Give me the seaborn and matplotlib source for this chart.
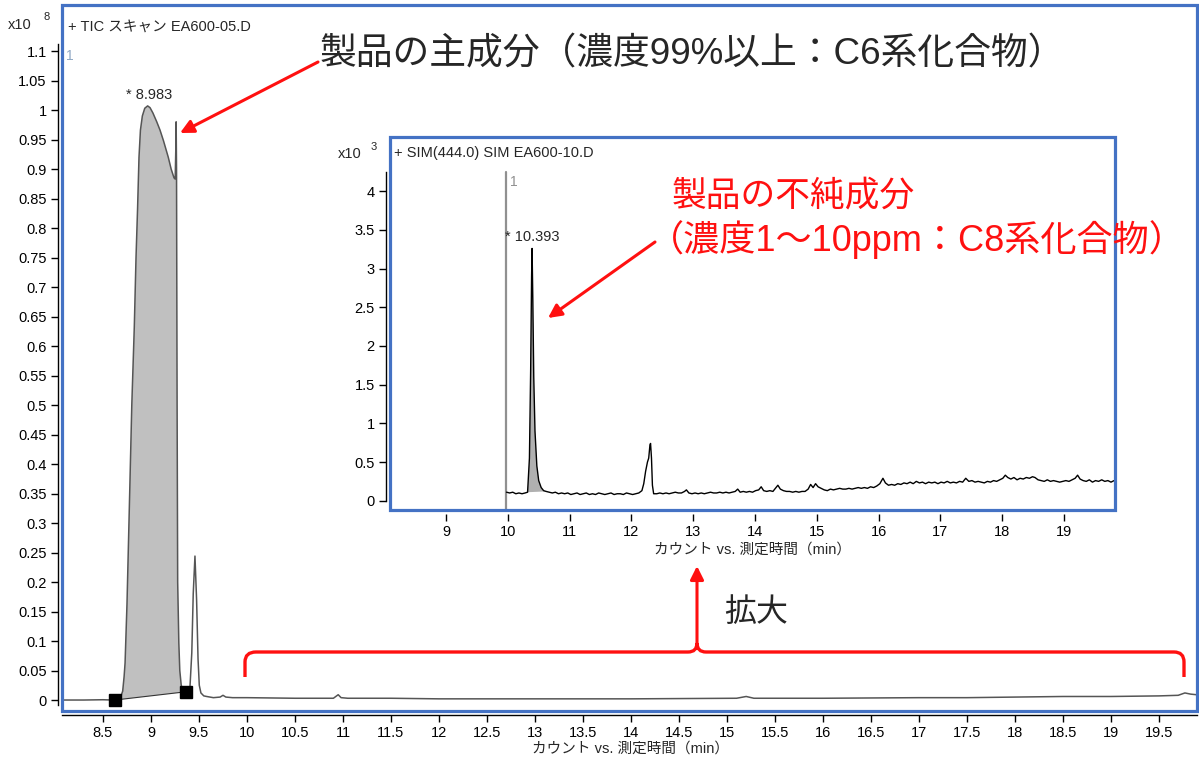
"""GC-MS chromatogram: TIC scan with SIM inset (product main / impurity component)."""

import matplotlib
matplotlib.use("Agg")
import matplotlib.pyplot as plt
from matplotlib.patches import Rectangle, FancyArrowPatch, PathPatch
from matplotlib.path import Path
import numpy as np
import pandas as pd
import seaborn as sns

# ---- TIC scan EA600-05.D (abundance x10^8) ----
tic_time = [8.07, 8.30, 8.50, 8.60, 8.625, 8.66, 8.69, 8.705, 8.72, 8.73, 8.75, 8.78,
            8.80, 8.826, 8.844, 8.86, 8.875, 8.89, 8.91, 8.935, 8.965, 8.99, 9.02, 9.06,
            9.094, 9.13, 9.18, 9.21, 9.24, 9.252, 9.258, 9.262, 9.266, 9.272, 9.278,
            9.29, 9.30, 9.315, 9.336, 9.365, 9.39, 9.406, 9.425, 9.44, 9.458, 9.475,
            9.49, 9.503, 9.52, 9.55, 9.58, 9.65, 9.72, 9.75, 9.78, 9.85, 10.0, 10.5,
            10.9, 10.95, 10.98, 11.05, 11.5, 12.0, 13.0, 14.0, 15.1, 15.2, 15.28, 16.0,
            17.0, 17.5, 18.0, 18.5, 19.0, 19.5, 19.7, 19.77, 19.83, 19.89]
tic_abund = [0.0, 0.0, 0.0005, 0.0, 0.0, 0.003, 0.008, 0.015, 0.04, 0.063, 0.163, 0.364,
             0.50, 0.632, 0.75, 0.832, 0.92, 0.966, 0.99, 1.003, 1.007, 1.004, 0.995, 0.98,
             0.966, 0.948, 0.92, 0.90, 0.885, 0.883, 0.93, 0.98, 0.90, 0.50, 0.20,
             0.097, 0.05, 0.025, 0.015, 0.014, 0.016, 0.022, 0.08, 0.18, 0.244, 0.17,
             0.07, 0.025, 0.012, 0.007, 0.006, 0.004, 0.005, 0.008, 0.005, 0.004, 0.004, 0.003,
             0.003, 0.009, 0.004, 0.003, 0.003, 0.002, 0.002, 0.002, 0.003, 0.006, 0.003, 0.003,
             0.004, 0.004, 0.005, 0.006, 0.006, 0.007, 0.008, 0.012, 0.010, 0.009]

# integration baseline end points of the main peak
tic_base_time = [8.625, 9.365]
tic_base_abund = [0.0, 0.014]
tic_peak_rt = 8.983

# ---- SIM(444.0) EA600-10.D (abundance x10^3) ----
sim_time = [9.98, 10.03, 10.08, 10.13, 10.18, 10.23, 10.28,
            10.32, 10.35, 10.37, 10.385, 10.393, 10.405, 10.42, 10.44, 10.47, 10.50, 10.54,
            10.58, 10.62,
            10.67, 10.72, 10.77, 10.82, 10.87, 10.92, 10.97, 11.02, 11.07, 11.12, 11.17,
            11.22, 11.27, 11.32, 11.37, 11.42, 11.47, 11.52, 11.57, 11.62, 11.67, 11.72,
            11.77, 11.82, 11.87, 11.92, 11.97, 12.02, 12.07, 12.12, 12.17,
            12.20, 12.23, 12.26, 12.28, 12.30, 12.31, 12.325, 12.34, 12.36,
            12.41, 12.46, 12.51, 12.56, 12.61, 12.66, 12.71, 12.76, 12.81, 12.86, 12.89,
            12.93, 12.98, 13.03, 13.08, 13.13, 13.18, 13.23, 13.28, 13.33, 13.38, 13.43,
            13.48, 13.53, 13.58, 13.63, 13.68, 13.72, 13.76, 13.81, 13.86, 13.91, 13.96,
            14.01, 14.06, 14.10, 14.14, 14.19, 14.24, 14.29, 14.33, 14.37, 14.41, 14.46,
            14.51, 14.56, 14.61, 14.66, 14.71, 14.76, 14.81, 14.86, 14.90, 14.94, 14.98,
            15.02, 15.07, 15.12, 15.17, 15.22, 15.27, 15.32, 15.37, 15.42, 15.47, 15.52,
            15.57, 15.62, 15.67, 15.72, 15.77, 15.82, 15.87, 15.92, 15.97, 16.02, 16.07,
            16.11, 16.16, 16.21, 16.26, 16.31, 16.36, 16.41, 16.46, 16.51, 16.56, 16.61,
            16.66, 16.71, 16.76, 16.81, 16.86, 16.91, 16.96, 17.01, 17.06, 17.11, 17.16,
            17.21, 17.26, 17.31, 17.36, 17.41, 17.46, 17.51, 17.56, 17.61, 17.66, 17.71,
            17.76, 17.81, 17.86, 17.91, 17.96, 18.01, 18.05, 18.09, 18.14, 18.19, 18.24,
            18.29, 18.34, 18.39, 18.44, 18.49, 18.53, 18.58, 18.63, 18.68, 18.73, 18.78,
            18.83, 18.88, 18.93, 18.98, 19.03, 19.08, 19.13, 19.18, 19.22, 19.26, 19.31,
            19.36, 19.41, 19.46, 19.51, 19.56, 19.61, 19.66, 19.71, 19.76, 19.81, 19.83]
sim_abund = [0.11, 0.10, 0.11, 0.09, 0.10, 0.09, 0.10,
             0.11, 0.55, 1.7, 2.9, 3.26, 2.6, 1.6, 0.9, 0.45, 0.26, 0.17,
             0.13, 0.12,
             0.11, 0.10, 0.11, 0.09, 0.10, 0.09, 0.10, 0.08, 0.09, 0.10, 0.08,
             0.09, 0.10, 0.08, 0.09, 0.08, 0.10, 0.09, 0.08, 0.09, 0.10, 0.08,
             0.09, 0.09, 0.08, 0.10, 0.09, 0.08, 0.09, 0.10, 0.13,
             0.22, 0.38, 0.50, 0.55, 0.72, 0.74, 0.55, 0.20, 0.09,
             0.09, 0.10, 0.09, 0.10, 0.09, 0.10, 0.11, 0.10, 0.10, 0.12, 0.14,
             0.10, 0.09, 0.10, 0.09, 0.10, 0.09, 0.10, 0.11, 0.10, 0.10, 0.11,
             0.10, 0.11, 0.10, 0.11, 0.12, 0.15, 0.11, 0.12, 0.11, 0.12, 0.11,
             0.13, 0.14, 0.18, 0.13, 0.12, 0.13, 0.12, 0.16, 0.20, 0.15, 0.13,
             0.12, 0.12, 0.11, 0.12, 0.11, 0.12, 0.12, 0.15, 0.21, 0.17, 0.22,
             0.18, 0.16, 0.14, 0.13, 0.15, 0.14, 0.15, 0.16, 0.15, 0.15, 0.16,
             0.15, 0.16, 0.17, 0.16, 0.17, 0.16, 0.18, 0.17, 0.19, 0.22, 0.29,
             0.23, 0.20, 0.21, 0.20, 0.22, 0.21, 0.23, 0.22, 0.24, 0.22, 0.25,
             0.23, 0.24, 0.22, 0.24, 0.23, 0.24, 0.22, 0.24, 0.23, 0.25, 0.23,
             0.24, 0.23, 0.25, 0.24, 0.29, 0.25, 0.26, 0.24, 0.25, 0.24, 0.23,
             0.25, 0.24, 0.26, 0.25, 0.27, 0.29, 0.33, 0.30, 0.28, 0.30, 0.27,
             0.29, 0.28, 0.30, 0.29, 0.31, 0.30, 0.27, 0.26, 0.25, 0.27, 0.25,
             0.26, 0.25, 0.24, 0.25, 0.26, 0.25, 0.27, 0.29, 0.33, 0.28, 0.26,
             0.25, 0.27, 0.24, 0.26, 0.25, 0.27, 0.25, 0.26, 0.24, 0.26, 0.25]

sim_base_time = [10.32, 10.62]
sim_base_abund = [0.11, 0.12]
sim_peak_rt = 10.393
sim_marker_rt = 9.97

main_xticks = [8.5, 9, 9.5, 10, 10.5, 11, 11.5, 12, 12.5, 13, 13.5, 14, 14.5, 15,
               15.5, 16, 16.5, 17, 17.5, 18, 18.5, 19, 19.5]
main_yticks = [0, 0.05, 0.1, 0.15, 0.2, 0.25, 0.3, 0.35, 0.4, 0.45, 0.5, 0.55, 0.6,
               0.65, 0.7, 0.75, 0.8, 0.85, 0.9, 0.95, 1, 1.05, 1.1]
inset_xticks = [9, 10, 11, 12, 13, 14, 15, 16, 17, 18, 19]
inset_yticks = [0, 0.5, 1, 1.5, 2, 2.5, 3, 3.5, 4]

W, H = 1199, 764
BLUE = "#4472C4"
RED = "#FF1010"


def box(l, t, r, b):
    return [l / W, 1 - b / H, (r - l) / W, (b - t) / H]


def style_axes(ax, xticks, yticks, ybounds, show_bottom_line):
    for side in ["top", "right"]:
        ax.spines[side].set_visible(False)
    for side in ["left", "bottom"]:
        ax.spines[side].set_position(("outward", 3))
        ax.spines[side].set_color("black")
        ax.spines[side].set_linewidth(1)
    if not show_bottom_line:
        ax.spines["bottom"].set_color("none")
    ax.spines["left"].set_bounds(*ybounds)
    ax.set_xticks(xticks)
    ax.set_xticklabels([f"{v:g}" for v in xticks])
    ax.set_yticks(yticks)
    ax.set_yticklabels([f"{v:g}" for v in yticks])
    ax.tick_params(direction="out", length=5, width=1, labelsize=10.5, colors="black", pad=3)
    ax.set_xlabel("")
    ax.set_ylabel("")
    ax.add_patch(Rectangle((0, 0), 1, 1, transform=ax.transAxes, fill=False,
                           edgecolor=BLUE, lw=2.3, clip_on=False, zorder=20))


sns.set_style("ticks")
plt.rcParams["font.family"] = ["Liberation Sans", "Noto Sans CJK JP", "DejaVu Sans"]

fig = plt.figure(figsize=(W / 100, H / 100), dpi=100)

# ---- main TIC chromatogram ----
tic = pd.DataFrame({"time": tic_time, "abund": tic_abund})
ax = fig.add_axes(box(62, 5, 1197, 711))
seg = tic[(tic.time >= tic_base_time[0]) & (tic.time <= tic_base_time[1])]
ax.fill(np.r_[seg.time.values, tic_base_time[::-1]],
        np.r_[seg.abund.values, tic_base_abund[::-1]], color="#c0c0c0", lw=0, zorder=1)
sns.lineplot(data=tic, x="time", y="abund", ax=ax, color="#555555", lw=1.1,
             estimator=None, sort=False, zorder=3)
ax.plot(tic_base_time, tic_base_abund, color="#333333", lw=0.8, zorder=2)
ax.plot(tic_base_time, tic_base_abund, "s", color="black", ms=8, zorder=4)
ax.set_xlim(8.073, 19.896)
ax.set_ylim(-0.0186, 1.178)
style_axes(ax, main_xticks, main_yticks, (-0.008, 1.112), True)
ax.text(tic_peak_rt, 1.013, f"* {tic_peak_rt:.3f}", ha="center", va="bottom", fontsize=10.5)

# ---- SIM inset ----
sim = pd.DataFrame({"time": sim_time, "abund": sim_abund})
ins = fig.add_axes(box(390, 137, 1115, 510))
ins.set_facecolor("white")
sseg = sim[(sim.time >= sim_base_time[0]) & (sim.time <= sim_base_time[1])]
ins.fill(np.r_[sseg.time.values, sim_base_time[::-1]],
         np.r_[sseg.abund.values, sim_base_abund[::-1]], color="#b0b0b0", lw=0, zorder=1)
ins.plot([sim_marker_rt, sim_marker_rt], [-0.12, 4.25], color="#909090", lw=1.6, zorder=2)
sns.lineplot(data=sim, x="time", y="abund", ax=ins, color="black", lw=1.0,
             estimator=None, sort=False, zorder=3)
ins.set_xlim(8.094, 19.825)
ins.set_ylim(-0.12, 4.70)
style_axes(ins, inset_xticks, inset_yticks, (0, 4.25), False)
ins.text(sim_peak_rt, 3.32, f"* {sim_peak_rt:.3f}", ha="center", va="bottom", fontsize=10.5)

# ---- overlay in pixel coordinates for headers and annotations ----
ov = fig.add_axes([0, 0, 1, 1], zorder=10)
ov.set_xlim(0, W)
ov.set_ylim(H, 0)
ov.axis("off")
ov.patch.set_alpha(0)

ov.text(8, 25, "x10", fontsize=10.5, va="center")
ov.text(43, 17, "8", fontsize=8, va="center")
ov.text(68, 27, "+ TIC スキャン EA600-05.D", fontsize=10.5, va="center")
ov.text(66, 56, "1", fontsize=10, va="center", color="#8fa8c4")
ov.text(630, 749, "カウント vs. 測定時間（min）", fontsize=10.5, ha="center", va="center")

ov.text(338, 154, "x10", fontsize=10.5, va="center")
ov.text(371, 147, "3", fontsize=8, va="center")
ov.text(394, 153, "+ SIM(444.0) SIM EA600-10.D", fontsize=10.5, va="center")
ov.text(510, 182, "1", fontsize=10, va="center", color="#909090")
ov.text(752, 550, "カウント vs. 測定時間（min）", fontsize=10.5, ha="center", va="center")

ov.text(320, 55, "製品の主成分（濃度99%以上：C6系化合物）", fontsize=26.5, va="center")
ov.text(672, 196, "製品の不純成分", fontsize=25, va="center", color=RED)
ov.text(648, 240, "（濃度1～10ppm：C8系化合物）", fontsize=26, va="center", color=RED)
ov.text(724, 613, "拡大", fontsize=23, va="center")

for start, end in [((318, 62), (180, 133)), ((655, 242), (548, 318)), ((697, 646), (697, 566))]:
    ov.add_patch(FancyArrowPatch(start, end, arrowstyle="-|>", mutation_scale=20,
                                 color=RED, lw=2.2, shrinkA=0, shrinkB=0))

brace_verts = [(245, 677), (245, 662), (245, 652), (256, 652), (688, 652), (697, 652),
               (697, 643), (697, 652), (706, 652), (1174, 652), (1184, 652), (1184, 662),
               (1184, 677)]
brace_codes = [Path.MOVETO, Path.LINETO, Path.CURVE3, Path.CURVE3, Path.LINETO,
               Path.CURVE3, Path.CURVE3, Path.CURVE3, Path.CURVE3, Path.LINETO,
               Path.CURVE3, Path.CURVE3, Path.LINETO]
ov.add_patch(PathPatch(Path(brace_verts, brace_codes), fill=False, edgecolor=RED, lw=2.4))

fig.savefig("out.png", dpi=100)
